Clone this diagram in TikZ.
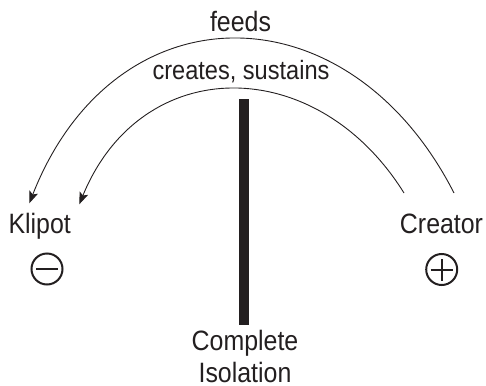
\documentclass[tikz,border=0pt]{standalone}
\usepackage{fontspec}
\setmainfont[FakeStretch=0.89]{Liberation Sans}
\usetikzlibrary{arrows.meta}
\definecolor{ink}{HTML}{231F20}
\begin{document}
\begin{tikzpicture}[x=1pt,y=-1pt,
  lbl/.style={font=\fontsize{28}{31.5}\selectfont, text=ink, inner sep=0pt, anchor=base},
  arc/.style={draw=ink, line width=0.9pt, -{Stealth[length=12pt,width=9pt,inset=2.5pt]}},
  sign/.style={circle, draw=ink, line width=2pt, minimum size=31pt, inner sep=0pt},
  bar/.style={draw=ink, line width=2pt}
]
\useasboundingbox (0,0) rectangle (486,385);
\node[lbl] (feeds) at (240.5,31.7) {feeds};
\node[lbl, font=\fontsize{26.5}{30}\selectfont] (creates) at (241,80) {creates, sustains};
\node[lbl] (klipot) at (39.7,233.3) {Klipot};
\node[lbl] (creator) at (441.5,233) {Creator};
\node[lbl, align=center, text depth=0pt] (iso) at (245,382) {Complete\\Isolation};
\node[sign] (minus) at (47,269) {};
\draw[bar] ([xshift=-11pt]minus.center) -- ([xshift=11pt]minus.center);
\node[sign] (plus) at (441.7,269.5) {};
\draw[bar] ([xshift=-11pt]plus.center) -- ([xshift=11pt]plus.center);
\draw[bar] ([yshift=-11pt]plus.center) -- ([yshift=11pt]plus.center);
\node[fill=ink, minimum width=9.4pt, minimum height=226pt, inner sep=0pt] (wall) at (244,212) {};
\coordinate (fs) at (454,193);
\coordinate (fe) at (29.3,203.3);
\coordinate (cs) at (404,193);
\coordinate (ce) at (79.3,204.3);
\draw[arc] (fs) .. controls (348.4,-14) and (114.7,-14) .. (fe);
\draw[arc] (cs) .. controls (316.5,52.5) and (141.5,52.5) .. (ce);
\end{tikzpicture}
\end{document}
